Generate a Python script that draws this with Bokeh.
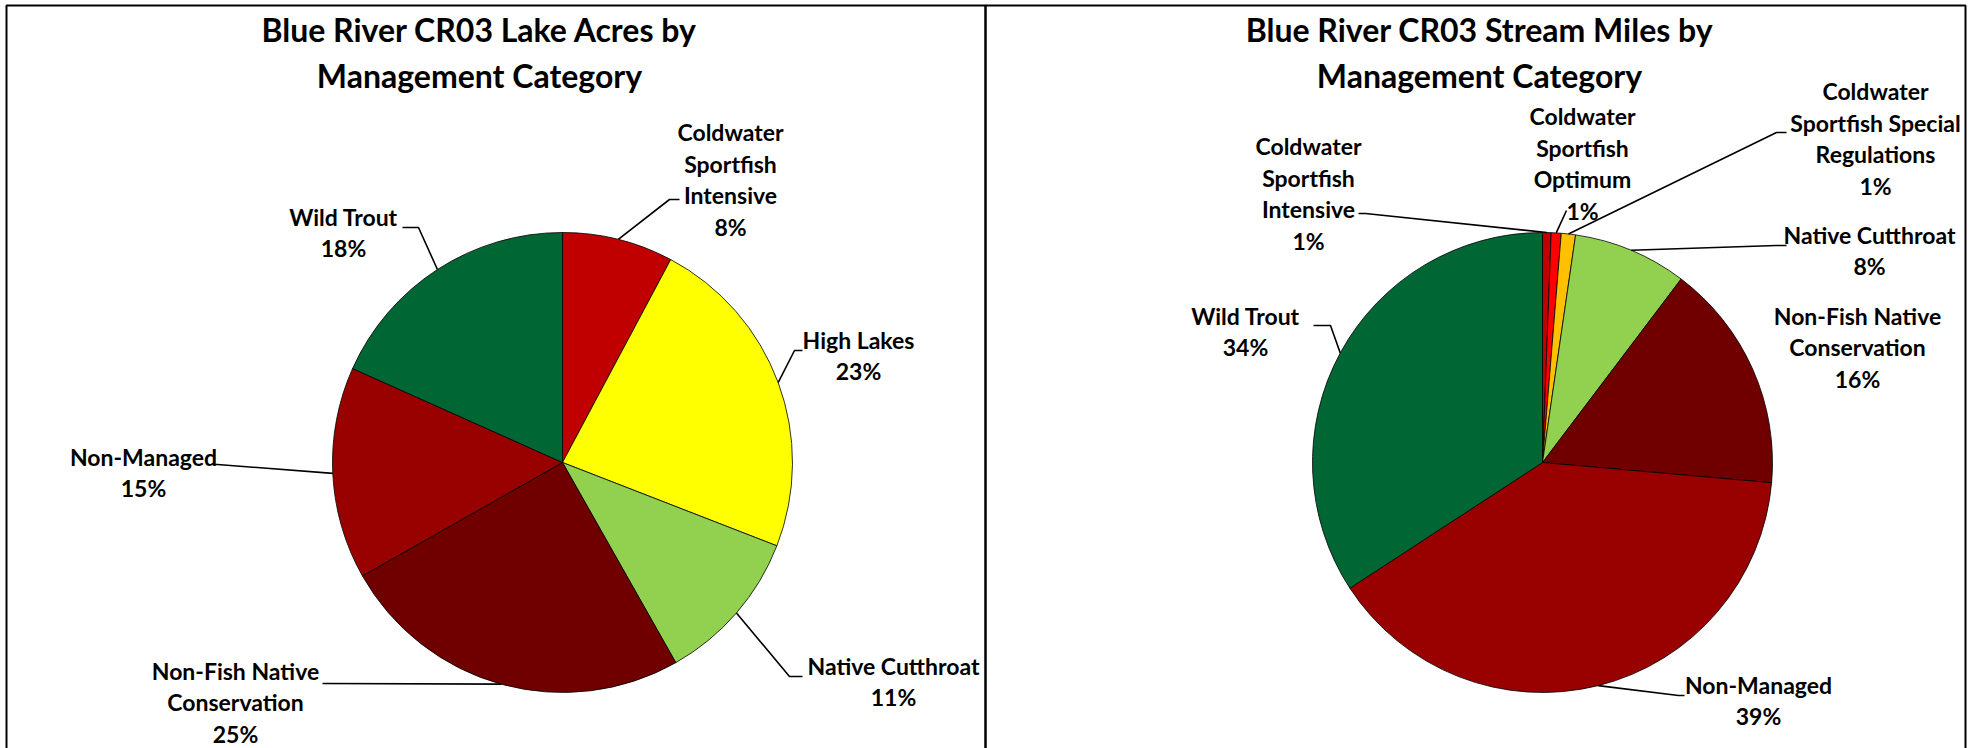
import math
from bokeh.plotting import figure
from bokeh.models import Range1d, ColumnDataSource
from bokeh.core.properties import value
from bokeh.embed import file_html
from bokeh.resources import INLINE

W, H = 1972, 748

# ---------------- data ----------------
lake_title = "Blue River CR03 Lake Acres by\nManagement Category"
lake_categories = ["Coldwater Sportfish Intensive", "High Lakes", "Native Cutthroat",
                   "Non-Fish Native Conservation", "Non-Managed", "Wild Trout"]
lake_label_names = ["Coldwater\nSportfish\nIntensive", "High Lakes", "Native Cutthroat",
                    "Non-Fish Native\nConservation", "Non-Managed", "Wild Trout"]
lake_values = [7.8, 23.1, 10.9, 25.0, 14.9, 18.3]

stream_title = "Blue River CR03 Stream Miles by\nManagement Category"
stream_categories = ["Coldwater Sportfish Intensive", "Coldwater Sportfish Optimum",
                     "Coldwater Sportfish Special Regulations", "Native Cutthroat",
                     "Non-Fish Native Conservation", "Non-Managed", "Wild Trout"]
stream_label_names = ["Coldwater\nSportfish\nIntensive", "Coldwater\nSportfish\nOptimum",
                      "Coldwater\nSportfish Special\nRegulations", "Native Cutthroat",
                      "Non-Fish Native\nConservation", "Non-Managed", "Wild Trout"]
stream_values = [0.6, 0.7, 1.0, 8.0, 16.1, 39.4, 34.2]

# ---------------- styles / layout ----------------
cat_colors = {
    "Coldwater Sportfish Intensive": "#C00000",
    "Coldwater Sportfish Optimum": "#FF0000",
    "Coldwater Sportfish Special Regulations": "#FFC000",
    "High Lakes": "#FFFF00",
    "Native Cutthroat": "#92D050",
    "Non-Fish Native Conservation": "#700000",
    "Non-Managed": "#990000",
    "Wild Trout": "#006633",
}

FONT = value("Lato")

# label centre (image coords, y down), leader elbow, leader end
lake_layout = dict(
    cx=562, cy=462, r=230, title_x=479, title_y=52,
    labels=[(730, 179), (858, 355), (893, 681), (235, 702), (143, 472), (343, 232)],
    leaders=[((669, 199), (679, 199)), ((794, 350), (802, 350)), ((789, 676), (802, 676)),
             ((322, 683), (322, 683)), ((217, 464), (212, 464)), ((418, 227), (402, 227))],
)
stream_layout = dict(
    cx=1542, cy=462, r=230, title_x=1479, title_y=52,
    labels=[(1308, 193), (1582, 163), (1875, 138), (1869, 250), (1857, 347), (1758, 700), (1245, 331)],
    leaders=[((1365, 213), (1358, 213)), ((1566, 210), (1566, 210)), ((1776, 132), (1786, 132)),
             ((1776, 245), (1786, 245)), None, ((1678, 695), (1684, 695)), ((1330, 325), (1313, 325))],
)

p = figure(width=W, height=H, x_range=Range1d(0, W), y_range=Range1d(0, H),
           output_backend="svg", toolbar_location=None,
           x_axis_type=None, y_axis_type=None, min_border=0)
p.outline_line_color = None
p.grid.visible = False
p.background_fill_color = "white"
p.border_fill_color = "white"

# panel borders
p.quad(left=[6, 985], right=[985, 1965], top=[H - 5, H - 5], bottom=[-10, -10],
       fill_color=None, line_color="black", line_width=2)


def draw_pie(title, cats, names, vals, lay):
    cx, cy, r = lay["cx"], lay["cy"], lay["r"]
    total = float(sum(vals))
    starts, ends, mids = [], [], []
    cum = 0.0
    for v in vals:
        a = cum / total
        cum += v
        b = cum / total
        starts.append(math.pi / 2 - 2 * math.pi * b)
        ends.append(math.pi / 2 - 2 * math.pi * a)
        mids.append((a + b) / 2)
    src = ColumnDataSource(dict(start=starts, end=ends,
                                color=[cat_colors[c] for c in cats]))
    p.wedge(x=cx, y=H - cy, radius=r, start_angle="start", end_angle="end",
            fill_color="color", line_color="black", line_width=0.8, source=src)

    # leader lines
    xs, ys = [], []
    for m, ld in zip(mids, lay["leaders"]):
        if ld is None:
            continue
        th = 2 * math.pi * m
        px = cx + r * math.sin(th)
        py = cy - r * math.cos(th)
        (ex, ey), (fx, fy) = ld
        xs.append([px, ex, fx])
        ys.append([H - py, H - ey, H - fy])
    p.multi_line(xs=xs, ys=ys, line_color="black", line_width=1.6)

    # data labels
    texts = [f"{n}\n{int(v / total * 100 + 0.5)}%" for n, v in zip(names, vals)]
    lsrc = ColumnDataSource(dict(x=[pt[0] for pt in lay["labels"]],
                                 y=[H - pt[1] for pt in lay["labels"]], t=texts))
    p.text(x="x", y="y", text="t", source=lsrc, text_align="center",
           text_baseline="middle", text_font=FONT, text_font_style="bold",
           text_font_size="23px", text_line_height=1.14, text_color="black")

    # title
    p.text(x=[lay["title_x"]], y=[H - lay["title_y"]], text=[title],
           text_align="center", text_baseline="middle", text_font=FONT,
           text_font_style="bold", text_font_size="32px", text_line_height=1.2,
           text_color="black")


draw_pie(lake_title, lake_categories, lake_label_names, lake_values, lake_layout)
draw_pie(stream_title, stream_categories, stream_label_names, stream_values, stream_layout)

open("out.html", "w").write(file_html(p, INLINE))
